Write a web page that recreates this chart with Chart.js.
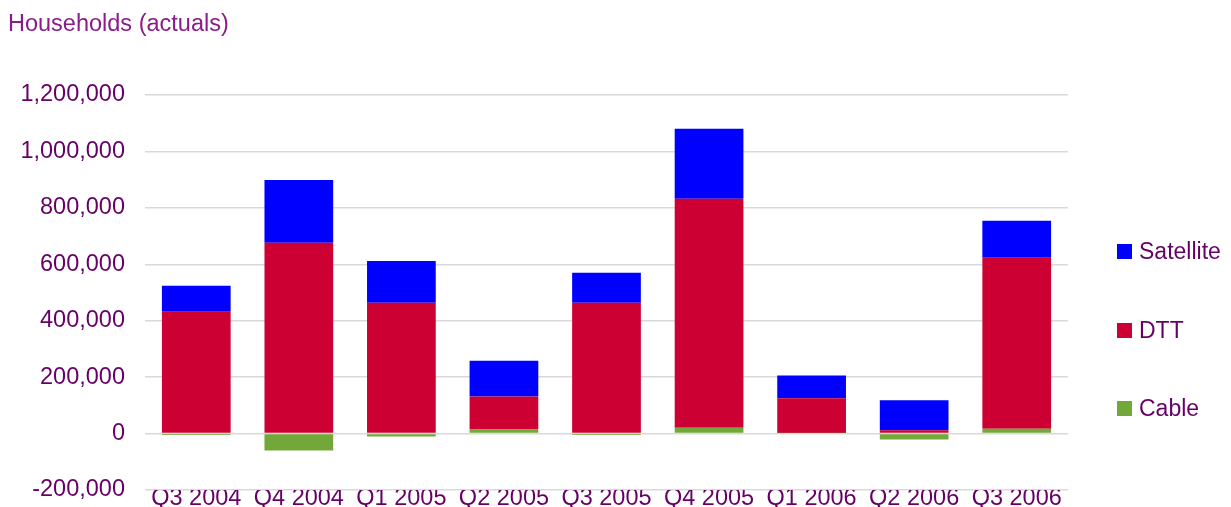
<!DOCTYPE html>
<html>
<head>
<meta charset="utf-8">
<script src="https://cdn.jsdelivr.net/npm/chart.js@4/dist/chart.umd.min.js"></script>
<style>
  body { margin: 0; background: #fff; font-family: "Liberation Sans", Arial, sans-serif; }
  #wrap { position: relative; width: 1231px; height: 507px; }
  canvas { display: block; }
  #title { position: absolute; left: 8px; top: 11px; font-size: 23.5px; line-height: 24px; color: #8b1a8b; white-space: nowrap; }
  .item { position: absolute; left: 1117px; height: 23px; display: flex; align-items: center; white-space: nowrap; font-size: 23px; line-height: 23px; color: #660066; }
  .item span { display: inline-block; width: 15px; height: 15px; margin-right: 7px; }
</style>
</head>
<body>
<div id="wrap">
  <canvas id="chart" width="1231" height="507"></canvas>
  <div id="title">Households (actuals)</div>
  <div class="item" style="top:240px"><span style="background:#0000ff"></span>Satellite</div>
  <div class="item" style="top:319px"><span style="background:#cc0033"></span>DTT</div>
  <div class="item" style="top:397px"><span style="background:#72a83a"></span>Cable</div>
</div>
<script>
const quarters = ["Q3 2004", "Q4 2004", "Q1 2005", "Q2 2005", "Q3 2005", "Q4 2005", "Q1 2006", "Q2 2006", "Q3 2006"];
const cable = [-5000, -60000, -10000, 14000, -5000, 21000, 2000, -21000, 17000];
const dtt = [432000, 676000, 464000, 117000, 464000, 811000, 123000, 12000, 606000];
const satellite = [92000, 223000, 148000, 127000, 106000, 248000, 81000, 106000, 131000];

const tickColor = "#660066";
const font = { family: "'Liberation Sans', Arial, sans-serif", size: 23.5 };

const ctx = document.getElementById("chart").getContext("2d");

new Chart(ctx, {
  type: "bar",
  data: {
    labels: quarters,
    datasets: [
      { label: "Cable", data: cable, backgroundColor: "#72a83a" },
      { label: "DTT", data: dtt, backgroundColor: "#cc0033" },
      { label: "Satellite", data: satellite, backgroundColor: "#0000ff" },
    ],
  },
  options: {
    responsive: false,
    animation: false,
    layout: { padding: { top: 95, right: 163, left: 0, bottom: 0 } },
    datasets: { bar: { barPercentage: 0.67, categoryPercentage: 1, borderWidth: 0 } },
    plugins: {
      legend: { display: false },
      tooltip: { enabled: false },
    },
    scales: {
      x: {
        stacked: true,
        grid: { display: false, drawTicks: false },
        border: { display: false },
        ticks: { color: tickColor, font: font, padding: -6, maxRotation: 0, minRotation: 0, autoSkip: false },
        // the axis box is narrow so the plot reaches y=490; labels are pulled up into it
        afterFit: (scale) => { scale.height = 17; },
      },
      y: {
        stacked: true,
        min: -200000,
        max: 1200000,
        // tick marks kept invisible, only used to push the labels away from the plot
        grid: { color: "#d9d9d9", lineWidth: 1.5, drawTicks: true, tickLength: 20, tickColor: "rgba(0,0,0,0)" },
        border: { display: false },
        ticks: {
          stepSize: 200000,
          color: tickColor,
          font: font,
          padding: 0,
          callback: (v) => v.toLocaleString("en-US"),
        },
        afterFit: (scale) => { scale.width = 145; },
      },
    },
  },
});
</script>
</body>
</html>
